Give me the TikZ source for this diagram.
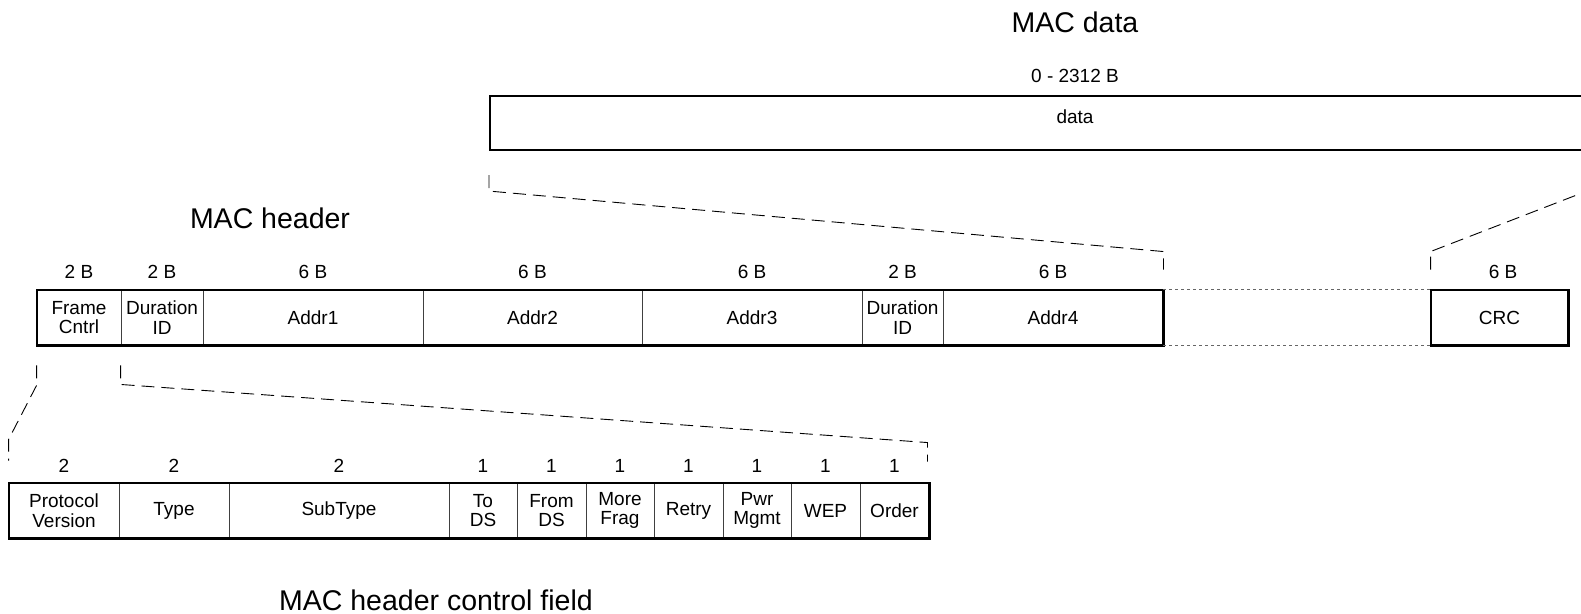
\documentclass[tikz,border=0pt]{standalone}
\usepackage{fontspec}
\setmainfont{Liberation Sans}
\usetikzlibrary{calc}
\begin{document}
\begin{tikzpicture}[x=1pt,y=-1pt,
  txt/.style={font=\fontsize{19}{19.5}\selectfont, inner sep=0pt, align=center},
  title/.style={font=\fontsize{28.5}{30}\selectfont, inner sep=0pt},
  field/.style={txt, draw=black!75, line width=0.9pt, minimum height=55pt},
  outer/.style={draw=black, line width=2.1pt},
  bracket/.style={draw=black, line width=0.9pt, dash pattern=on 13pt off 7pt},
  gap/.style={draw=black!60, line width=0.9pt, dash pattern=on 3pt off 3pt}
]
\useasboundingbox (0,0) rectangle (1581,613);
\clip (0,0) rectangle (1581,613);

% ---------- MAC data ----------
\node[title] (tdata) at (1075,22) {MAC data};
\node[txt] (ldata) at (1075,76) {0 - 2312 B};
\node[outer, minimum width=1170pt, minimum height=54pt, inner sep=0pt] (data) at (1075,123) {};
\node[txt] (tdat) at (1075,117) {data};

% ---------- MAC header ----------
\node[title] (thead) at (270,218) {MAC header};
\node[field, minimum width=84pt]  (fc)  at (79,317.5)   {Frame\\Cntrl};
\node[field, minimum width=82pt]  (du)  at (162,317.5)  {Duration\\ID};
\node[field, minimum width=220pt] (a1)  at (313,317.5)  {Addr1};
\node[field, minimum width=219pt] (a2)  at (532.5,317.5){Addr2};
\node[field, minimum width=220pt] (a3)  at (752,317.5)  {Addr3};
\node[field, minimum width=81pt]  (d2)  at (902.5,317.5){Duration\\ID};
\node[field, minimum width=220pt] (a4)  at (1053,317.5) {Addr4};
\node[field, minimum width=137pt] (crc) at (1499.5,317.5) {CRC};
\draw[outer] (fc.north west) rectangle (a4.south east);
\draw[outer] (crc.north west) rectangle (crc.south east);

\node[txt] (hfc)  at (79,272)    {2 B};
\node[txt] (hdu)  at (162,272)   {2 B};
\node[txt] (ha1)  at (313,272)   {6 B};
\node[txt] (ha2)  at (532.5,272) {6 B};
\node[txt] (ha3)  at (752,272)   {6 B};
\node[txt] (hd2)  at (902.5,272) {2 B};
\node[txt] (ha4)  at (1053,272)  {6 B};
\node[txt] (hcrc) at (1503,272)  {6 B};

\draw[gap] (a4.north east) -- (crc.north west);
\draw[gap] (a4.south east) -- (crc.south west);

% ---------- MAC header control field ----------
\node[title, anchor=base] (tctl) at (436,610) {MAC header control field};
\node[field, minimum width=110pt] (pv)  at (64,510.5)   {Protocol\\Version};
\node[field, minimum width=110pt] (ty)  at (174,510.5)  {Type};
\node[field, minimum width=220pt] (st)  at (339,510.5)  {SubType};
\node[field, minimum width=68pt]  (tds) at (483,510.5)  {To\\DS};
\node[field, minimum width=69pt]  (fds) at (551.5,510.5){From\\DS};
\node[field, minimum width=68pt]  (mf)  at (620,510.5)  {More\\Frag};
\node[field, minimum width=69pt]  (re)  at (688.5,510.5){Retry};
\node[field, minimum width=68pt]  (pm)  at (757,510.5)  {Pwr\\Mgmt};
\node[field, minimum width=69pt]  (wep) at (825.5,510.5){WEP};
\node[field, minimum width=69pt]  (ord) at (894.5,510.5){Order};
\draw[outer] (pv.north west) rectangle (ord.south east);

\node[txt] (cpv)  at (64,466)    {2};
\node[txt] (cty)  at (174,466)   {2};
\node[txt] (cst)  at (339,466)   {2};
\node[txt] (ctds) at (483,466)   {1};
\node[txt] (cfds) at (551.5,466) {1};
\node[txt] (cmf)  at (620,466)   {1};
\node[txt] (cre)  at (688.5,466) {1};
\node[txt] (cpm)  at (757,466)   {1};
\node[txt] (cwep) at (825.5,466) {1};
\node[txt] (cord) at (894.5,466) {1};

% ---------- bracket connectors ----------
\coordinate (b1a) at ($(data.south west)+(0,24)$);
\coordinate (b1b) at ($(data.south west)+(0,40)$);
\coordinate (b1c) at ($(a4.north east)+(0,-38)$);
\coordinate (b1d) at ($(a4.north east)+(0,-20)$);
\draw[bracket] (b1a) -- (b1b) -- (b1c) -- (b1d);

\coordinate (b2a) at ($(crc.north west)+(0,-20)$);
\coordinate (b2b) at ($(crc.north west)+(0,-38)$);
\coordinate (b2c) at (1600,186);
\coordinate (b2d) at (1600,172);
\draw[bracket] (b2a) -- (b2b) -- (b2c) -- (b2d);

\coordinate (b3a) at ($(fc.south west)+(0,20)$);
\coordinate (b3b) at ($(fc.south west)+(0,40)$);
\coordinate (b3c) at ($(pv.north west)+(0,-43)$);
\coordinate (b3d) at ($(pv.north west)+(0,-22)$);
\draw[bracket] (b3a) -- (b3b) -- (b3c) -- (b3d);

\coordinate (b4a) at ($(du.south west)+(0,20)$);
\coordinate (b4b) at ($(du.south west)+(0,39)$);
\coordinate (b4c) at ($(ord.north east)+(-2,-40)$);
\coordinate (b4d) at ($(ord.north east)+(-2,-21)$);
\draw[bracket] (b4a) -- (b4b) -- (b4c) -- (b4d);
\end{tikzpicture}
\end{document}
